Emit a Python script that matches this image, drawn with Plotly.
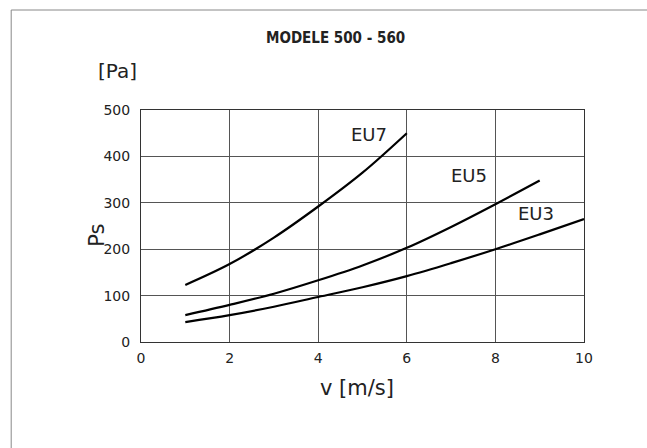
import plotly.graph_objects as go

v_eu7 = [1, 2, 3, 4, 5, 6]
ps_eu7 = [123, 168, 225, 292, 365, 450]
v_eu5 = [1, 2, 3, 4, 5, 6, 7, 8, 9]
ps_eu5 = [58, 80, 104, 133, 165, 203, 248, 297, 348]
v_eu3 = [1, 2, 3, 4, 5, 6, 7, 8, 9, 10]
ps_eu3 = [43, 58, 76, 97, 118, 142, 170, 200, 232, 265]

labels = ["EU7", "EU5", "EU3"]
label_v = [5.15, 7.4, 8.92]
label_ps = [448, 358, 276]

FONT = "DejaVu Sans"

fig = go.Figure()
for xs, ys in [(v_eu7, ps_eu7), (v_eu5, ps_eu5), (v_eu3, ps_eu3)]:
    fig.add_trace(go.Scatter(x=xs, y=ys, mode="lines", line=dict(color="black", width=2.2, shape="spline"),
                             showlegend=False, hoverinfo="x+y"))

for t, xv, yv in zip(labels, label_v, label_ps):
    fig.add_annotation(x=xv, y=yv, text=t, showarrow=False, xanchor="center", yanchor="middle",
                       font=dict(size=18, color="#222", family=FONT))

def paper_text(x, y, text, size, family=FONT, angle=0):
    fig.add_annotation(xref="paper", yref="paper", x=x, y=y, text=text, showarrow=False,
                       xanchor="center", yanchor="middle", textangle=angle,
                       font=dict(size=size, color="#222", family=family))

paper_text(0.438, 1.31, "<b>MODELE 500 - 560</b>", 15, family="DejaVu Sans Condensed")
paper_text(-0.054, 1.168, "[Pa]", 20)
paper_text(-0.1, 0.461, "Ps", 21, angle=-90)
paper_text(0.488, -0.198, "v [m/s]", 21)

fig.add_shape(type="rect", xref="paper", yref="paper", x0=-0.293, y0=-1.0, x1=1.5, y1=1.431,
              line=dict(color="#888", width=1))

fig.update_layout(
    width=647, height=448,
    margin=dict(l=141, r=63, t=110, b=106),
    paper_bgcolor="white", plot_bgcolor="white",
    font=dict(family=FONT, color="#222"),
    xaxis=dict(range=[0, 10], tickvals=[0, 2, 4, 6, 8, 10], showgrid=True, gridcolor="#555", gridwidth=1,
               showline=True, linecolor="#333", mirror=True, zeroline=False, ticks="",
               ticklabelstandoff=3, tickfont=dict(size=14, family=FONT)),
    yaxis=dict(range=[0, 500], tickvals=[0, 100, 200, 300, 400, 500], showgrid=True, gridcolor="#555", gridwidth=1,
               showline=True, linecolor="#333", mirror=True, zeroline=False, ticks="",
               ticklabelstandoff=7, tickfont=dict(size=14, family=FONT)),
)

fig.write_html("out.html")
